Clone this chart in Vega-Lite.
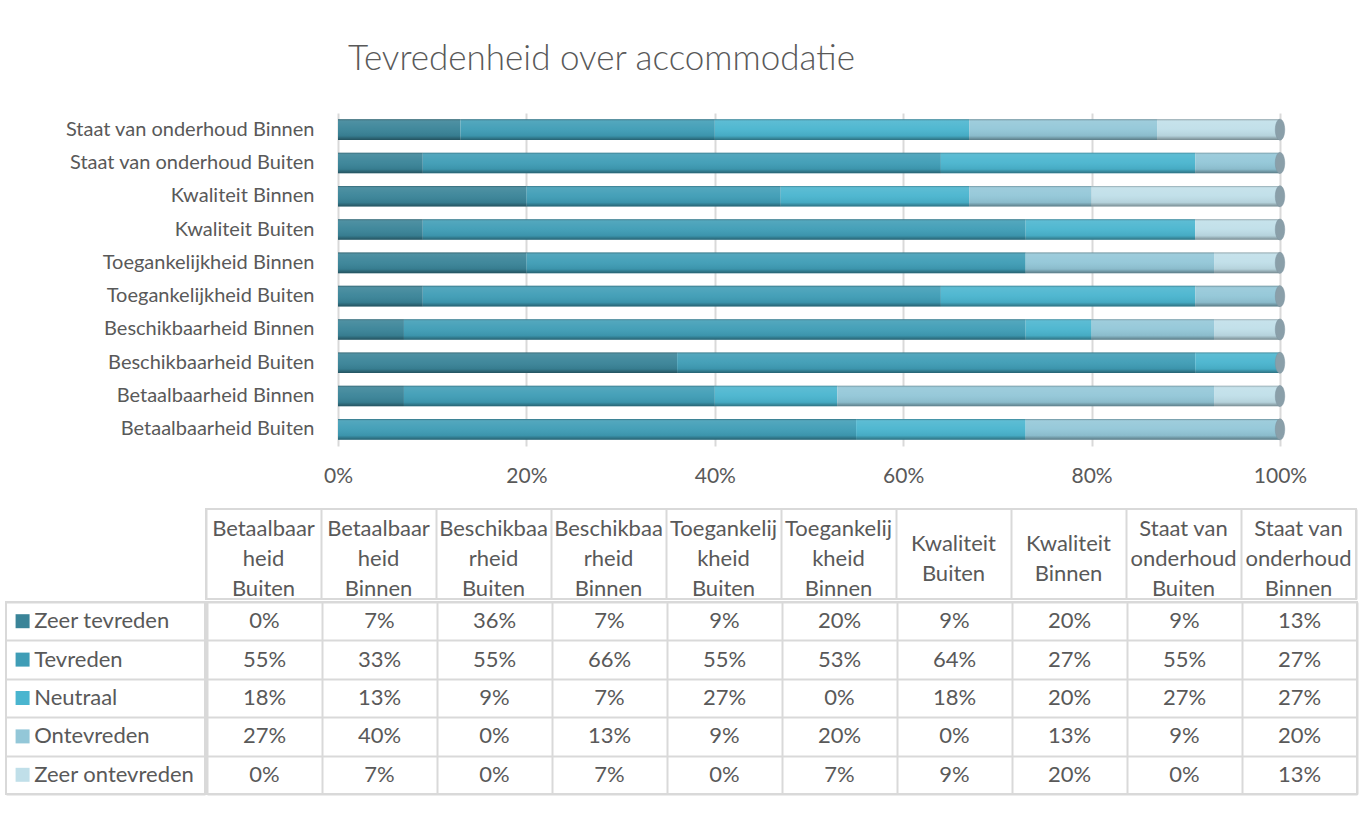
{
  "$schema": "https://vega.github.io/schema/vega-lite/v6.json",
  "background": "white",
  "padding": {"left": 5, "top": 42, "right": 5, "bottom": 40},
  "config": {
    "font": "Lato",
    "view": {"stroke": "#d9d9d9", "strokeWidth": 2},
    "axis": {"labelColor": "#595959", "labelFont": "Lato", "labelFontSize": 20, "domain": false, "ticks": false, "title": null},
    "text": {"font": "Lato", "fontSize": 22, "fill": "#595959"}
  },
  "datasets": {
    "survey": [
      {"category": "Betaalbaarheid Buiten", "series": "Zeer tevreden", "value": 0.00},
      {"category": "Betaalbaarheid Binnen", "series": "Zeer tevreden", "value": 0.07},
      {"category": "Beschikbaarheid Buiten", "series": "Zeer tevreden", "value": 0.36},
      {"category": "Beschikbaarheid Binnen", "series": "Zeer tevreden", "value": 0.07},
      {"category": "Toegankelijkheid Buiten", "series": "Zeer tevreden", "value": 0.09},
      {"category": "Toegankelijkheid Binnen", "series": "Zeer tevreden", "value": 0.20},
      {"category": "Kwaliteit Buiten", "series": "Zeer tevreden", "value": 0.09},
      {"category": "Kwaliteit Binnen", "series": "Zeer tevreden", "value": 0.20},
      {"category": "Staat van onderhoud Buiten", "series": "Zeer tevreden", "value": 0.09},
      {"category": "Staat van onderhoud Binnen", "series": "Zeer tevreden", "value": 0.13},
      {"category": "Betaalbaarheid Buiten", "series": "Tevreden", "value": 0.55},
      {"category": "Betaalbaarheid Binnen", "series": "Tevreden", "value": 0.33},
      {"category": "Beschikbaarheid Buiten", "series": "Tevreden", "value": 0.55},
      {"category": "Beschikbaarheid Binnen", "series": "Tevreden", "value": 0.66},
      {"category": "Toegankelijkheid Buiten", "series": "Tevreden", "value": 0.55},
      {"category": "Toegankelijkheid Binnen", "series": "Tevreden", "value": 0.53},
      {"category": "Kwaliteit Buiten", "series": "Tevreden", "value": 0.64},
      {"category": "Kwaliteit Binnen", "series": "Tevreden", "value": 0.27},
      {"category": "Staat van onderhoud Buiten", "series": "Tevreden", "value": 0.55},
      {"category": "Staat van onderhoud Binnen", "series": "Tevreden", "value": 0.27},
      {"category": "Betaalbaarheid Buiten", "series": "Neutraal", "value": 0.18},
      {"category": "Betaalbaarheid Binnen", "series": "Neutraal", "value": 0.13},
      {"category": "Beschikbaarheid Buiten", "series": "Neutraal", "value": 0.09},
      {"category": "Beschikbaarheid Binnen", "series": "Neutraal", "value": 0.07},
      {"category": "Toegankelijkheid Buiten", "series": "Neutraal", "value": 0.27},
      {"category": "Toegankelijkheid Binnen", "series": "Neutraal", "value": 0.00},
      {"category": "Kwaliteit Buiten", "series": "Neutraal", "value": 0.18},
      {"category": "Kwaliteit Binnen", "series": "Neutraal", "value": 0.20},
      {"category": "Staat van onderhoud Buiten", "series": "Neutraal", "value": 0.27},
      {"category": "Staat van onderhoud Binnen", "series": "Neutraal", "value": 0.27},
      {"category": "Betaalbaarheid Buiten", "series": "Ontevreden", "value": 0.27},
      {"category": "Betaalbaarheid Binnen", "series": "Ontevreden", "value": 0.40},
      {"category": "Beschikbaarheid Buiten", "series": "Ontevreden", "value": 0.00},
      {"category": "Beschikbaarheid Binnen", "series": "Ontevreden", "value": 0.13},
      {"category": "Toegankelijkheid Buiten", "series": "Ontevreden", "value": 0.09},
      {"category": "Toegankelijkheid Binnen", "series": "Ontevreden", "value": 0.20},
      {"category": "Kwaliteit Buiten", "series": "Ontevreden", "value": 0.00},
      {"category": "Kwaliteit Binnen", "series": "Ontevreden", "value": 0.13},
      {"category": "Staat van onderhoud Buiten", "series": "Ontevreden", "value": 0.09},
      {"category": "Staat van onderhoud Binnen", "series": "Ontevreden", "value": 0.20},
      {"category": "Betaalbaarheid Buiten", "series": "Zeer ontevreden", "value": 0.00},
      {"category": "Betaalbaarheid Binnen", "series": "Zeer ontevreden", "value": 0.07},
      {"category": "Beschikbaarheid Buiten", "series": "Zeer ontevreden", "value": 0.00},
      {"category": "Beschikbaarheid Binnen", "series": "Zeer ontevreden", "value": 0.07},
      {"category": "Toegankelijkheid Buiten", "series": "Zeer ontevreden", "value": 0.00},
      {"category": "Toegankelijkheid Binnen", "series": "Zeer ontevreden", "value": 0.07},
      {"category": "Kwaliteit Buiten", "series": "Zeer ontevreden", "value": 0.09},
      {"category": "Kwaliteit Binnen", "series": "Zeer ontevreden", "value": 0.20},
      {"category": "Staat van onderhoud Buiten", "series": "Zeer ontevreden", "value": 0.00},
      {"category": "Staat van onderhoud Binnen", "series": "Zeer ontevreden", "value": 0.13}
    ]
  },
  "spacing": 22,
  "vconcat": [
    {
      "spacing": 0,
      "hconcat": [
        {
          "width": 1, "height": 10,
          "view": {"stroke": null},
          "data": {"values": [{"t": ""}]},
          "mark": {"type": "text"},
          "encoding": {"text": {"field": "t"}}
        },
        {
          "width": 942,
          "height": 333,
          "view": {"stroke": null},
          "title": {"text": "Tevredenheid over accommodatie", "anchor": "start", "frame": "group", "dx": 10, "offset": 36, "fontSize": 35, "fontWeight": 300, "font": "Lato", "color": "#595959"},
          "data": {"name": "survey"},
          "encoding": {
            "y": {"field": "category", "type": "nominal",
              "sort": ["Staat van onderhoud Binnen", "Staat van onderhoud Buiten", "Kwaliteit Binnen", "Kwaliteit Buiten", "Toegankelijkheid Binnen", "Toegankelijkheid Buiten", "Beschikbaarheid Binnen", "Beschikbaarheid Buiten", "Betaalbaarheid Binnen", "Betaalbaarheid Buiten"],
              "scale": {"paddingInner": 0.38, "paddingOuter": 0.19},
              "axis": {"labelPadding": 24, "minExtent": 331, "labelLimit": 400}}
          },
          "layer": [
            {
              "transform": [
                {"calculate": "indexof(['Zeer tevreden','Tevreden','Neutraal','Ontevreden','Zeer ontevreden'], datum.series)", "as": "rank"}
              ],
              "mark": {"type": "bar"},
              "encoding": {
                "x": {"field": "value", "type": "quantitative", "stack": "normalize",
                  "scale": {"domain": [0, 1]},
                  "axis": {"format": ".0%", "values": [0, 0.2, 0.4, 0.6, 0.8, 1], "grid": true, "gridColor": "#d9d9d9", "gridWidth": 2, "labelPadding": 19, "labelFlush": false, "labelFontSize": 21}},
                "color": {"field": "series", "type": "nominal",
                  "scale": {"domain": ["Zeer tevreden", "Tevreden", "Neutraal", "Ontevreden", "Zeer ontevreden"],
                            "range": ["#3a8498", "#3f9db6", "#4ab5cf", "#93c7d8", "#c0dfe9"]},
                  "legend": null},
                "order": {"field": "rank", "type": "quantitative", "sort": "ascending"}
              }
            },
            {
              "mark": {"type": "bar",
                "fill": {"gradient": "linear", "x1": 0, "y1": 0, "x2": 0, "y2": 1,
                  "stops": [
                    {"offset": 0, "color": "rgba(0,0,0,0.30)"},
                    {"offset": 0.1, "color": "rgba(255,255,255,0.10)"},
                    {"offset": 0.45, "color": "rgba(255,255,255,0.04)"},
                    {"offset": 0.8, "color": "rgba(0,0,0,0.06)"},
                    {"offset": 1, "color": "rgba(0,0,0,0.38)"}
                  ]}},
              "encoding": {
                "x": {"aggregate": "sum", "field": "value", "type": "quantitative"}
              }
            },
            {
              "mark": {"type": "point", "filled": true, "shape": "M0,-1A0.45,1,0,1,1,0,1A0.45,1,0,1,1,0,-1Z", "size": 440, "fill": "#8a9fa9", "opacity": 1, "stroke": "#7d939e", "strokeWidth": 0.5},
              "encoding": {
                "x": {"aggregate": "sum", "field": "value", "type": "quantitative"}
              }
            }
          ]
        }
      ]
    },
    {
      "spacing": 0,
      "vconcat": [
        {
          "spacing": 0,
          "hconcat": [
            {
              "width": 199, "height": 90,
              "view": {"stroke": null},
              "data": {"values": [{"t": ""}]},
              "mark": {"type": "text"},
              "encoding": {"text": {"field": "t"}}
            },
            {
              "width": 1150, "height": 90,
              "data": {"name": "survey"},
              "transform": [
                {"filter": "datum.series === 'Zeer tevreden'"},
                {"calculate": "indexof(datum.category,'Betaal')==0 ? ['Betaalbaar','heid',peek(split(datum.category,' '))] : indexof(datum.category,'Beschik')==0 ? ['Beschikbaa','rheid',peek(split(datum.category,' '))] : indexof(datum.category,'Toeg')==0 ? ['Toegankelij','kheid',peek(split(datum.category,' '))] : indexof(datum.category,'Kwal')==0 ? ['Kwaliteit',peek(split(datum.category,' '))] : ['Staat van','onderhoud',peek(split(datum.category,' '))]", "as": "header"},
                {"calculate": "length(datum.header)", "as": "nlines"}
              ],
              "encoding": {
                "x": {"field": "category", "type": "nominal",
                  "sort": ["Betaalbaarheid Buiten", "Betaalbaarheid Binnen", "Beschikbaarheid Buiten", "Beschikbaarheid Binnen", "Toegankelijkheid Buiten", "Toegankelijkheid Binnen", "Kwaliteit Buiten", "Kwaliteit Binnen", "Staat van onderhoud Buiten", "Staat van onderhoud Binnen"],
                  "scale": {"paddingInner": 0, "paddingOuter": 0},
                  "axis": {"labels": false, "grid": true, "tickBand": "extent", "gridColor": "#d9d9d9", "gridWidth": 2}},
                "text": {"field": "header"}
              },
              "layer": [
                {
                  "transform": [{"filter": "datum.nlines === 3"}],
                  "mark": {"type": "text", "lineHeight": 30, "baseline": "middle", "dy": -25}
                },
                {
                  "transform": [{"filter": "datum.nlines === 2"}],
                  "mark": {"type": "text", "lineHeight": 30, "baseline": "middle", "dy": -10}
                }
              ]
            }
          ]
        },
        {
          "spacing": 0,
          "hconcat": [
            {
              "width": 199, "height": 192,
              "data": {"name": "survey"},
              "transform": [{"filter": "datum.category === 'Betaalbaarheid Buiten'"}],
              "encoding": {
                "y": {"field": "series", "type": "nominal", "sort": ["Zeer tevreden", "Tevreden", "Neutraal", "Ontevreden", "Zeer ontevreden"],
                  "scale": {"paddingInner": 0, "paddingOuter": 0},
                  "axis": {"labels": false, "grid": true, "tickBand": "extent", "gridColor": "#d9d9d9", "gridWidth": 2}}
              },
              "layer": [
                {
                  "mark": {"type": "square", "size": 196, "opacity": 1},
                  "encoding": {
                    "x": {"datum": 1, "type": "quantitative", "scale": {"domain": [0, 12]}, "axis": null},
                    "color": {"field": "series", "type": "nominal", "legend": null}
                  }
                },
                {
                  "mark": {"type": "text", "align": "left"},
                  "encoding": {
                    "x": {"datum": 1.7, "type": "quantitative"},
                    "text": {"field": "series"}
                  }
                }
              ]
            },
            {
              "width": 1150, "height": 192,
              "data": {"name": "survey"},
              "mark": {"type": "text"},
              "encoding": {
                "x": {"field": "category", "type": "nominal",
                  "sort": ["Betaalbaarheid Buiten", "Betaalbaarheid Binnen", "Beschikbaarheid Buiten", "Beschikbaarheid Binnen", "Toegankelijkheid Buiten", "Toegankelijkheid Binnen", "Kwaliteit Buiten", "Kwaliteit Binnen", "Staat van onderhoud Buiten", "Staat van onderhoud Binnen"],
                  "scale": {"paddingInner": 0, "paddingOuter": 0},
                  "axis": {"labels": false, "grid": true, "tickBand": "extent", "gridColor": "#d9d9d9", "gridWidth": 2}},
                "y": {"field": "series", "type": "nominal", "sort": ["Zeer tevreden", "Tevreden", "Neutraal", "Ontevreden", "Zeer ontevreden"],
                  "scale": {"paddingInner": 0, "paddingOuter": 0},
                  "axis": {"labels": false, "grid": true, "tickBand": "extent", "gridColor": "#d9d9d9", "gridWidth": 2}},
                "text": {"field": "value", "type": "quantitative", "format": ".0%"}
              }
            }
          ]
        }
      ]
    }
  ]
}
